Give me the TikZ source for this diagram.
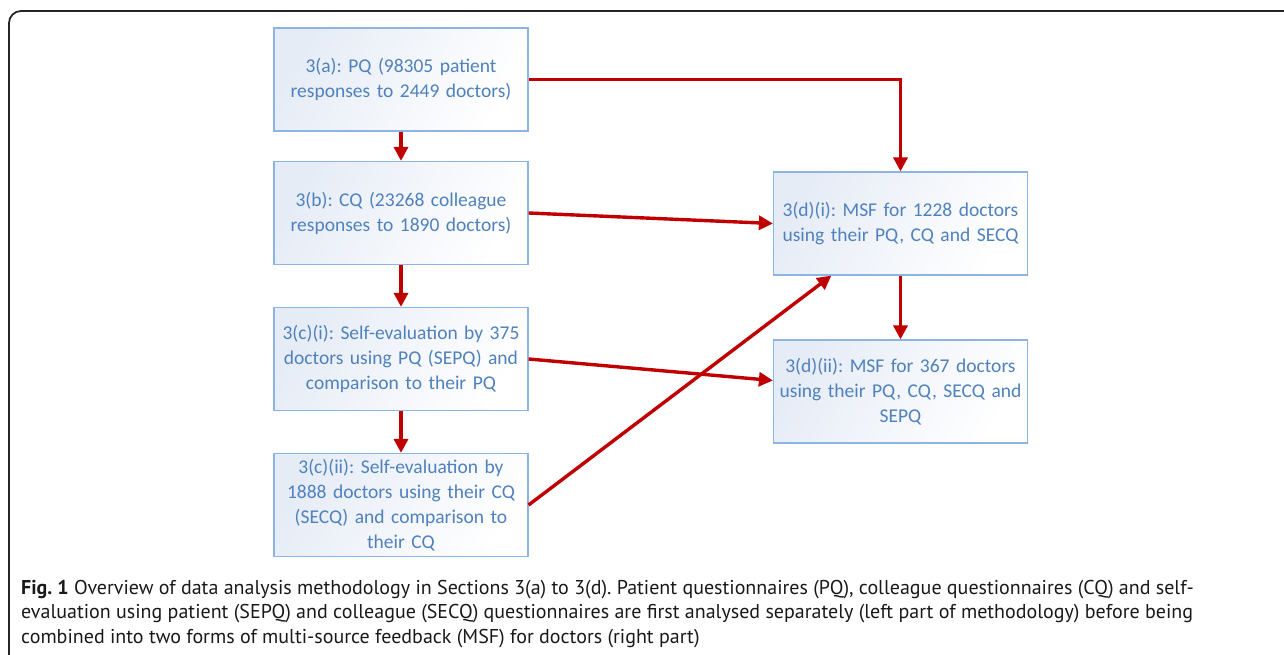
\documentclass[tikz,border=0pt]{standalone}
\usepackage{fontspec}
\setmainfont{Carlito}
\newfontfamily\capfont{PT Sans}
\frenchspacing
\usetikzlibrary{arrows.meta}
\definecolor{stageblue}{HTML}{4F81BD}
\definecolor{stageedge}{HTML}{8EB4E3}
\definecolor{stagefill}{HTML}{E6ECF6}
\definecolor{arrowred}{HTML}{C00000}
\tikzset{
  stagebox/.style={draw=stageedge, line width=1.2pt, left color=stagefill, right color=white,
    shading angle=60, text=stageblue, text width=248pt, inner xsep=3pt, inner ysep=0pt,
    minimum height=103pt, align=center, font=\fontsize{19.5}{25}\selectfont},
  redarrow/.style={draw=arrowred, line width=3.4pt, -{Triangle[length=14pt,width=14pt]}}
}
\begin{document}
\begin{tikzpicture}[x=1pt,y=-1pt]
\useasboundingbox (0,0) rectangle (1284,655);
\begin{scope}
\clip (0,0) rectangle (1284,655);
\draw[line width=1.8pt, draw=black!85, rounded corners=12pt] (9,680) -- (9,11) -- (1300,11);
\end{scope}
% left column
\node[stagebox] (pq) at (401,79.5) {3(a): PQ (98305 patient\\responses to 2449 doctors)};
\node[stagebox] (cq) at (401,213) {3(b): CQ (23268 colleague\\responses to 1890 doctors)};
\node[stagebox] (sepq) at (401,359) {3(c)(i): Self-evaluation by 375\\doctors using PQ (SEPQ) and\\comparison to their PQ};
\node[stagebox] (secq) at (401,505) {3(c)(ii): Self-evaluation by\\1888 doctors using their CQ\\(SECQ) and comparison to\\their CQ};
% right column
\node[stagebox] (msfa) at (900.5,223.5) {3(d)(i): MSF for 1228 doctors\\using their PQ, CQ and SECQ};
\node[stagebox] (msfb) at (900.5,391.5) {3(d)(ii): MSF for 367 doctors\\using their PQ, CQ, SECQ and\\SEPQ};
% arrows
\draw[redarrow] (pq) -- (cq);
\draw[redarrow] (cq) -- (sepq);
\draw[redarrow] (sepq) -- (secq);
\draw[redarrow] (pq.east) -| (msfa.north);
\draw[redarrow] (cq.east) -- (msfa.west);
\draw[redarrow] (sepq.east) -- ([yshift=11pt]msfb.west);
\draw[redarrow] (secq.east) -- (msfa.217);
\draw[redarrow] (msfa) -- (msfb);
% caption
\node[anchor=north west, align=left, inner sep=0pt, text=black!90,
  font=\capfont\fontsize{20}{24.5}\selectfont] (caption) at (21,580)
  {\textbf{Fig. 1} Overview of data analysis methodology in Sections 3(a) to 3(d). Patient questionnaires (PQ), colleague questionnaires (CQ) and self-\\
   evaluation using patient (SEPQ) and colleague (SECQ) questionnaires are first analysed separately (left part of methodology) before being\\
   combined into two forms of multi-source feedback (MSF) for doctors (right part)};
\end{tikzpicture}
\end{document}
